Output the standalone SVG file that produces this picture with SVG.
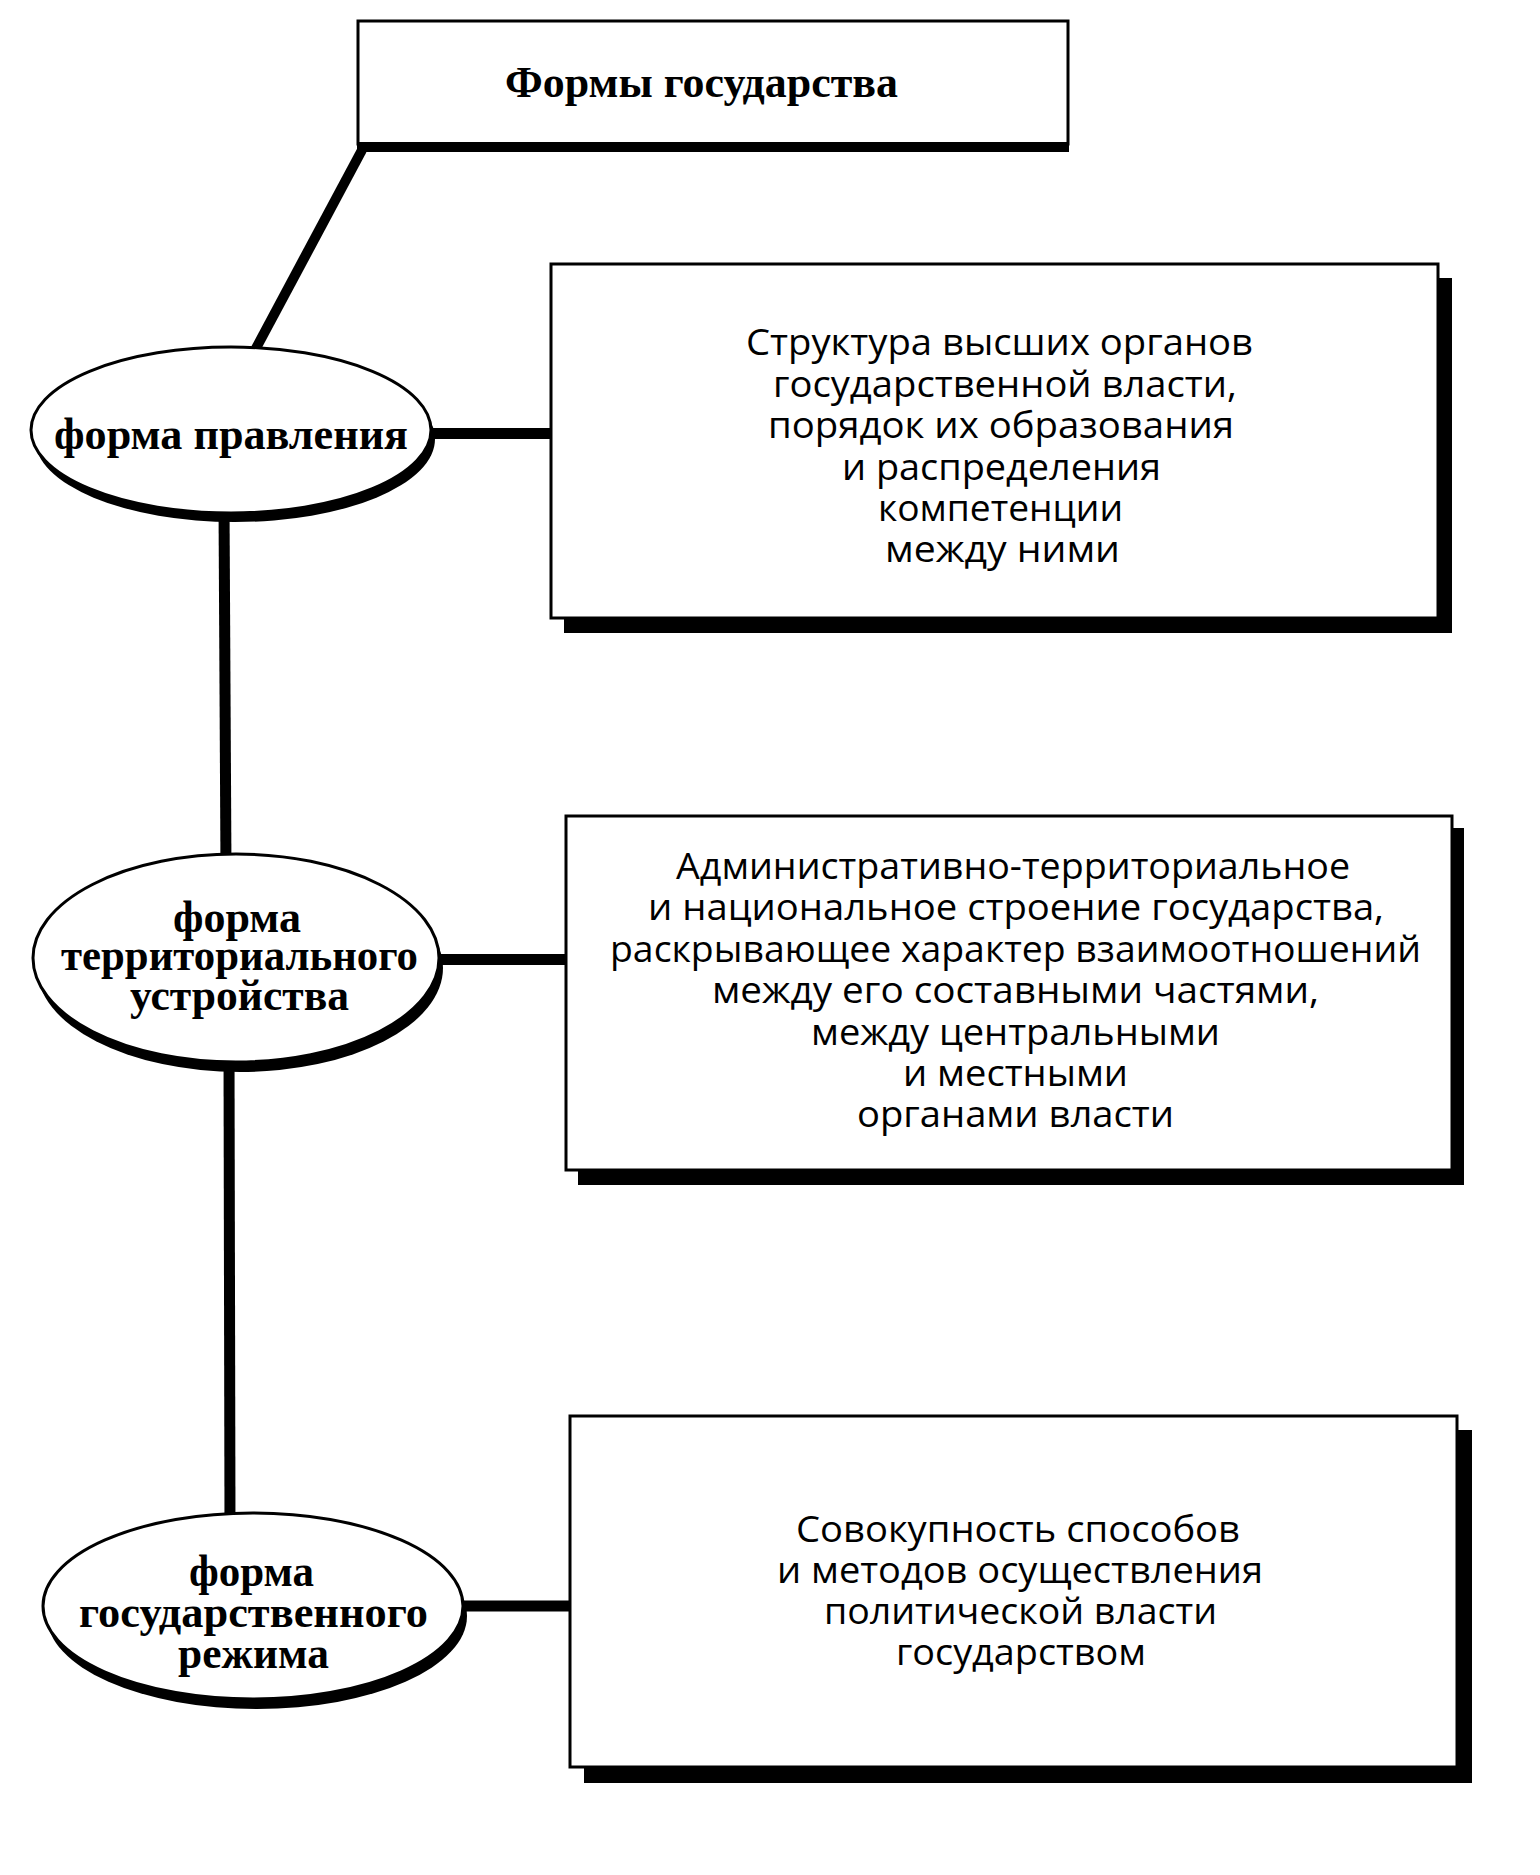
<svg xmlns="http://www.w3.org/2000/svg" width="1540" height="1875" viewBox="0 0 1540 1875">
<style>
.bg{fill:#fff}
.box{fill:#fff;stroke:#000;stroke-width:3}
.sh{fill:#000}
.ell{fill:#fff;stroke:#000;stroke-width:3}
.con{stroke:#000;stroke-width:11;fill:none;stroke-linecap:butt}
.ser{font-family:"Liberation Serif","Times New Roman",serif;font-weight:bold;font-size:44px;fill:#000}
.san{font-family:"Open Sans","Noto Sans","DejaVu Sans",sans-serif;font-size:36px;fill:#000}
</style>
<rect class="bg" x="0" y="0" width="1540" height="1875"/>
<g id="connectors">
<line class="con" x1="362" y1="150" x2="254" y2="352" style="stroke-width:10"/>
<line class="con" x1="224" y1="505" x2="226" y2="870"/>
<line class="con" x1="229" y1="1050" x2="230" y2="1530"/>
<line class="con" x1="420" y1="433.5" x2="553" y2="433.5"/>
<line class="con" x1="430" y1="959.5" x2="568" y2="959.5"/>
<line class="con" x1="450" y1="1606" x2="572" y2="1606"/>
</g>
<g id="title">
<rect class="box" x="358" y="21" width="710" height="123"/>
<rect class="sh" x="357" y="142" width="712" height="10"/>
<text class="ser" x="505" y="97" textLength="393" lengthAdjust="spacingAndGlyphs">Формы государства</text>
</g>
<g id="form-pravleniya">
<ellipse class="sh" cx="235" cy="439" rx="200" ry="83"/>
<ellipse class="ell" cx="231" cy="430" rx="200" ry="83"/>
<text class="ser" x="54" y="449" textLength="354" lengthAdjust="spacingAndGlyphs">форма правления</text>
</g>
<g id="box-pravleniya">
<rect class="sh" x="564" y="278" width="888" height="355"/>
<rect class="box" x="551" y="264" width="887" height="354"/>
<g class="san">
<text x="746" y="355" textLength="507" lengthAdjust="spacingAndGlyphs">Структура высших органов</text>
<text x="773" y="397" textLength="464" lengthAdjust="spacingAndGlyphs">государственной власти,</text>
<text x="768" y="438" textLength="466" lengthAdjust="spacingAndGlyphs">порядок их образования</text>
<text x="842" y="480" textLength="319" lengthAdjust="spacingAndGlyphs">и распределения</text>
<text x="878" y="521" textLength="245" lengthAdjust="spacingAndGlyphs">компетенции</text>
<text x="885" y="562" textLength="235" lengthAdjust="spacingAndGlyphs">между ними</text>
</g>
</g>
<g id="form-territorii">
<ellipse class="sh" cx="240" cy="968" rx="203" ry="104"/>
<ellipse class="ell" cx="236" cy="958" rx="203" ry="104"/>
<text class="ser" x="173" y="932" textLength="128" lengthAdjust="spacingAndGlyphs">форма</text>
<text class="ser" x="61" y="970" textLength="357" lengthAdjust="spacingAndGlyphs">территориального</text>
<text class="ser" x="130" y="1010" textLength="219" lengthAdjust="spacingAndGlyphs">устройства</text>
</g>
<g id="box-territorii">
<rect class="sh" x="578" y="828" width="886" height="357"/>
<rect class="box" x="566" y="816" width="886" height="354"/>
<g class="san">
<text x="676" y="879" textLength="674" lengthAdjust="spacingAndGlyphs">Административно-территориальное</text>
<text x="648" y="920" textLength="736" lengthAdjust="spacingAndGlyphs">и национальное строение государства,</text>
<text x="610" y="962" textLength="811" lengthAdjust="spacingAndGlyphs">раскрывающее характер взаимоотношений</text>
<text x="712" y="1003" textLength="607" lengthAdjust="spacingAndGlyphs">между его составными частями,</text>
<text x="811" y="1045" textLength="409" lengthAdjust="spacingAndGlyphs">между центральными</text>
<text x="903" y="1086" textLength="225" lengthAdjust="spacingAndGlyphs">и местными</text>
<text x="857" y="1127" textLength="317" lengthAdjust="spacingAndGlyphs">органами власти</text>
</g>
</g>
<g id="form-rezhima">
<ellipse class="sh" cx="257" cy="1616" rx="210" ry="93"/>
<ellipse class="ell" cx="253" cy="1606" rx="210" ry="93"/>
<text class="ser" x="189" y="1586" textLength="125" lengthAdjust="spacingAndGlyphs">форма</text>
<text class="ser" x="79" y="1627" textLength="349" lengthAdjust="spacingAndGlyphs">государственного</text>
<text class="ser" x="178" y="1668" textLength="151" lengthAdjust="spacingAndGlyphs">режима</text>
</g>
<g id="box-rezhima">
<rect class="sh" x="584" y="1430" width="888" height="353"/>
<rect class="box" x="570" y="1416" width="887" height="351"/>
<g class="san">
<text x="796" y="1542" textLength="444" lengthAdjust="spacingAndGlyphs">Совокупность способов</text>
<text x="777" y="1583" textLength="486" lengthAdjust="spacingAndGlyphs">и методов осуществления</text>
<text x="824" y="1624" textLength="393" lengthAdjust="spacingAndGlyphs">политической власти</text>
<text x="896" y="1665" textLength="250" lengthAdjust="spacingAndGlyphs">государством</text>
</g>
</g>
</svg>
